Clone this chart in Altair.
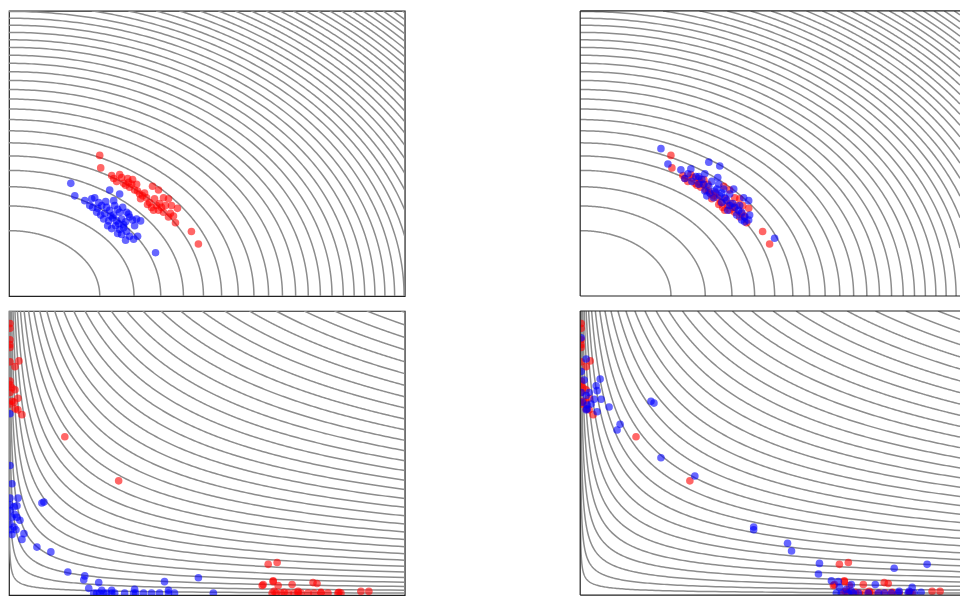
import numpy as np
import pandas as pd
import altair as alt

# data extent of every panel (arbitrary units, origin at lower-left corner)
X_MAX, Y_MAX = 397, 296
X_VISIBLE_RIGHT = 381  # right-hand panels are cut by the page edge

# observed sample (red) - shared by both panels of a row
red_top = [(91, 146), (92, 133), (103, 125), (105, 122), (108, 119), (111, 126), (113, 123),
           (115, 117), (119, 122), (121, 113), (123, 116), (117, 115), (126, 110), (124, 121),
           (131, 106), (136, 107), (144, 114), (150, 110), (132, 101), (138, 102), (141, 97),
           (143, 92), (145, 89), (146, 101), (150, 89), (151, 96), (155, 102), (155, 87),
           (160, 101), (160, 82), (162, 86), (163, 94), (165, 83), (167, 76), (169, 91),
           (129, 109), (134, 104), (139, 95), (148, 94), (153, 92), (157, 94), (128, 116),
           (120, 118), (183, 67), (190, 54)]

blue_tl = [(62, 117), (66, 104), (76, 99), (83, 101), (86, 102), (89, 91), (101, 110), (111, 106),
           (97, 98), (93, 94), (88, 87), (84, 92), (96, 86), (101, 89), (106, 94), (105, 84),
           (109, 90), (111, 87), (114, 92), (118, 87), (120, 85), (95, 80), (100, 78), (104, 81),
           (108, 78), (113, 80), (117, 77), (121, 82), (124, 79), (128, 80), (132, 78), (99, 73),
           (103, 70), (107, 73), (111, 69), (115, 71), (118, 67), (121, 62), (125, 59), (129, 62),
           (126, 73), (110, 75), (102, 83), (92, 84), (98, 92), (115, 74), (113, 64), (117, 58),
           (109, 65), (147, 45), (90, 97), (105, 99), (81, 94)]

blue_tr = [(81, 153), (88, 137), (129, 139), (140, 135), (111, 132), (101, 131), (125, 127),
           (105, 122), (112, 119), (119, 116), (124, 116), (129, 114), (132, 119), (139, 116),
           (144, 111), (135, 109), (130, 107), (127, 104), (134, 102), (140, 104), (145, 102),
           (150, 106), (154, 111), (147, 99), (142, 97), (150, 94), (155, 92), (159, 89),
           (162, 87), (165, 82), (169, 79), (170, 84), (164, 102), (169, 99), (162, 79),
           (157, 84), (165, 77), (195, 60), (116, 124), (122, 121), (108, 127), (138, 123),
           (153, 96), (148, 89), (160, 94), (137, 111), (142, 107), (125, 109), (119, 124)]

red_bottom = [(1, 283), (1, 278), (1, 266), (1, 261), (1, 258), (10, 244), (1, 243), (6, 238),
              (1, 223), (1, 219), (3, 216), (6, 214), (1, 211), (9, 205), (3, 202), (5, 201),
              (1, 199), (6, 194), (9, 193), (13, 188), (56, 165), (110, 119),
              (260, 32), (269, 34), (254, 10), (265, 14), (270, 10), (284, 11), (305, 13),
              (309, 12), (264, 2), (268, 2), (273, 2), (280, 2), (286, 2), (290, 2), (293, 2),
              (300, 2), (306, 2), (313, 2), (320, 2), (330, 2), (333, 2), (353, 4), (361, 4),
              (266, 4), (276, 3), (290, 4), (313, 3), (331, 3), (255, 11), (265, 15)]

blue_bl = [(1, 189), (1, 135), (3, 116), (9, 101), (1, 101), (1, 94), (5, 92), (8, 93), (1, 88),
           (6, 84), (3, 81), (8, 81), (11, 78), (1, 74), (5, 71), (2, 68), (7, 68), (15, 64),
           (3, 63), (13, 58), (35, 97), (33, 96), (28, 50), (42, 45), (59, 24), (76, 20),
           (75, 16), (90, 13), (80, 7), (156, 14), (190, 18), (85, 2), (88, 2), (91, 2),
           (95, 2), (98, 2), (103, 2), (106, 2), (116, 2), (125, 2), (127, 2), (135, 2),
           (143, 2), (151, 2), (160, 2), (166, 2), (205, 2), (93, 5), (103, 5), (126, 6),
           (160, 5)]

blue_br = [(1, 268), (6, 246), (1, 233), (4, 224), (20, 225), (16, 218), (17, 213), (1, 211),
           (6, 208), (9, 211), (14, 204), (21, 204), (2, 201), (7, 198), (11, 199), (6, 193),
           (17, 191), (29, 196), (71, 202), (74, 200), (40, 178), (37, 172), (81, 143),
           (115, 124), (7, 194), (174, 71), (174, 68), (208, 54), (212, 46), (240, 33),
           (239, 22), (315, 28), (348, 32), (252, 15), (259, 14), (272, 11), (296, 11),
           (333, 8), (342, 3), (382, 2), (257, 2), (262, 2), (269, 2), (274, 2), (279, 2),
           (289, 2), (299, 2), (305, 2), (312, 2), (319, 2), (329, 2), (335, 2), (260, 8),
           (267, 6), (272, 4), (320, 4), (330, 4)]

# contour levels (top: squared radius in unit box; bottom: u^(1/3) v^(2/3))
ring_levels = [round(0.0054 + 0.0472 * k, 4) for k in range(1, 43)]
cd_levels = [round(0.997 - 0.03 * j, 3) for j in range(0, 33)]

FRAME = "#222222"
LINE = "#8c8c8c"


def ring_df(umax):
    rows = []
    for lv in ring_levels:
        r = np.sqrt(lv)
        t0 = np.arccos(min(1.0, umax / r))
        t1 = np.arcsin(min(1.0, 1.0 / r))
        if t1 <= t0:
            continue
        for i, tt in enumerate(np.linspace(t0, t1, 160)):
            rows.append({"lv": lv, "i": i, "x": r * np.cos(tt) * X_MAX, "y": r * np.sin(tt) * Y_MAX})
    return pd.DataFrame(rows)


def cd_df(umax):
    rows = []
    for c in cd_levels:
        u0 = c ** 3
        if u0 >= umax:
            continue
        u = np.geomspace(u0, umax, 220)
        v = c ** 1.5 / np.sqrt(u)
        for i, (uu, vv) in enumerate(zip(u, v)):
            rows.append({"lv": c, "i": i, "x": uu * X_MAX, "y": vv * Y_MAX})
    return pd.DataFrame(rows)


def pts_df(red, blue, x_max):
    d = [{"x": x, "y": y, "s": "0red"} for x, y in red if x <= x_max] + \
        [{"x": x, "y": y, "s": "1blue"} for x, y in blue if x <= x_max]
    return pd.DataFrame(d)


ONE = pd.DataFrame({"k": [0]})


def panel(cont, red, blue, w, h, x_max, full_frame):
    xs = alt.Scale(domain=[0, x_max], nice=False, zero=False)
    ys = alt.Scale(domain=[0, Y_MAX], nice=False, zero=False)
    lines = alt.Chart(cont).mark_line(color=LINE, strokeWidth=1.5, clip=True).encode(
        x=alt.X("x:Q", scale=xs, axis=None),
        y=alt.Y("y:Q", scale=ys, axis=None),
        detail="lv:N",
        order="i:Q",
    )
    pts = alt.Chart(pts_df(red, blue, x_max)).mark_circle(size=58, opacity=0.6, clip=True).encode(
        x=alt.X("x:Q", scale=xs, axis=None),
        y=alt.Y("y:Q", scale=ys, axis=None),
        color=alt.Color("s:N", scale=alt.Scale(domain=["0red", "1blue"], range=["#ff0000", "#0000ff"]),
                        legend=None),
        order=alt.Order("s:N"),
    )
    layers = [lines, pts]
    if full_frame:
        view = alt.ViewBackground(stroke=FRAME, strokeWidth=1.2)
    else:
        view = alt.ViewBackground(stroke="transparent")
        rule = alt.Chart(ONE).mark_rule(color=FRAME, strokeWidth=1.2)
        layers += [
            rule.encode(x=alt.value(0), y=alt.value(0), y2=alt.value(h)),
            rule.encode(x=alt.value(0), x2=alt.value(w), y=alt.value(0)),
            rule.encode(x=alt.value(0), x2=alt.value(w), y=alt.value(h)),
        ]
    return alt.layer(*layers).properties(width=w, height=h, view=view)


umax_r = X_VISIBLE_RIGHT / X_MAX

H_TOP, H_BOT = 286, 285
top = alt.hconcat(
    panel(ring_df(1.0), red_top, blue_tl, X_MAX, H_TOP, X_MAX, True),
    panel(ring_df(umax_r), red_top, blue_tr, X_VISIBLE_RIGHT, H_TOP, X_VISIBLE_RIGHT, False),
    spacing=173,
)
bottom = alt.hconcat(
    panel(cd_df(1.0), red_bottom, blue_bl, X_MAX, H_BOT, X_MAX, True),
    panel(cd_df(umax_r), red_bottom, blue_br, X_VISIBLE_RIGHT, H_BOT, X_VISIBLE_RIGHT, False),
    spacing=173,
)

chart = alt.vconcat(top, bottom, spacing=11).properties(padding=0)

chart.save("out.html", embed_options={"renderer": "svg", "actions": False})
